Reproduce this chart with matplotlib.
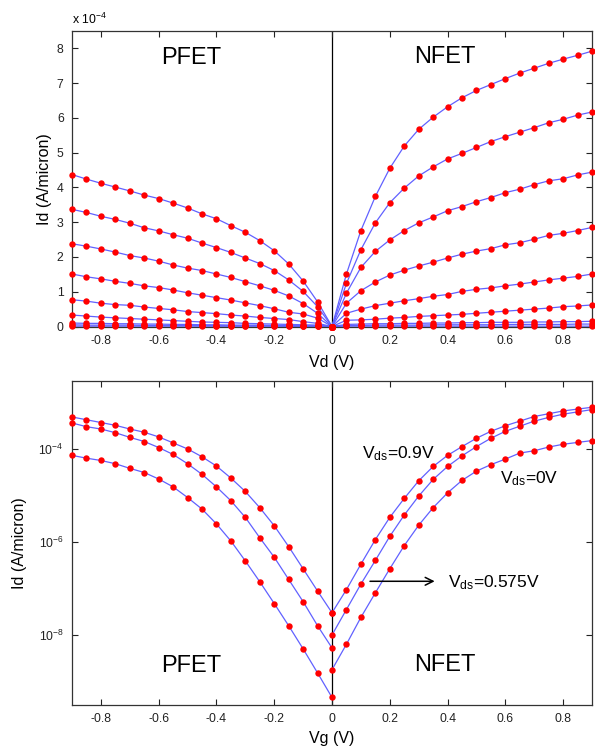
import matplotlib
matplotlib.use("Agg")
import matplotlib.pyplot as plt
import numpy as np

plt.rcParams['font.family'] = ['Liberation Sans', 'DejaVu Sans']
plt.rcParams['mathtext.fontset'] = 'custom'
plt.rcParams['mathtext.rm'] = 'Liberation Sans'
plt.rcParams['mathtext.it'] = 'Liberation Sans:italic'
plt.rcParams['axes.unicode_minus'] = False

# ---------------- data: output characteristics (Id in units of 1e-4 A/micron) ----
vd_n = [0, 0.05, 0.1, 0.15, 0.2, 0.25, 0.3, 0.35, 0.4, 0.45, 0.5, 0.55, 0.6, 0.65,
        0.7, 0.75, 0.8, 0.85, 0.9]
vd_p = [-0.9, -0.85, -0.8, -0.75, -0.7, -0.65, -0.6, -0.55, -0.5, -0.45, -0.4, -0.35,
        -0.3, -0.25, -0.2, -0.15, -0.1, -0.05, 0]

id_n1 = [0, 1.51, 2.76, 3.74, 4.55, 5.19, 5.67, 6.02, 6.32, 6.58, 6.79, 6.96, 7.13, 7.29, 7.43, 7.57, 7.69, 7.80, 7.92]
id_n2 = [0, 1.24, 2.21, 2.98, 3.56, 3.98, 4.33, 4.59, 4.82, 4.98, 5.15, 5.32, 5.46, 5.59, 5.72, 5.86, 5.96, 6.08, 6.17]
id_n3 = [0, 0.96, 1.70, 2.16, 2.49, 2.76, 2.98, 3.15, 3.33, 3.45, 3.59, 3.71, 3.85, 3.95, 4.08, 4.19, 4.25, 4.36, 4.44]
id_n4 = [0, 0.67, 1.03, 1.28, 1.48, 1.62, 1.74, 1.85, 1.97, 2.08, 2.17, 2.24, 2.35, 2.41, 2.51, 2.62, 2.68, 2.76, 2.85]
id_n5 = [0, 0.38, 0.50, 0.60, 0.67, 0.74, 0.80, 0.87, 0.92, 1.01, 1.07, 1.11, 1.17, 1.22, 1.28, 1.34, 1.39, 1.44, 1.51]
id_n6 = [0, 0.18, 0.19, 0.21, 0.24, 0.26, 0.29, 0.31, 0.33, 0.35, 0.38, 0.41, 0.44, 0.47, 0.50, 0.53, 0.57, 0.59, 0.62]
id_n7 = [0, 0.06, 0.07, 0.08, 0.08, 0.09, 0.09, 0.10, 0.10, 0.11, 0.11, 0.12, 0.12, 0.12, 0.13, 0.13, 0.14, 0.14, 0.15]
id_n8 = [0, 0.03, 0.03, 0.04, 0.04, 0.04, 0.04, 0.05, 0.05, 0.05, 0.05, 0.05, 0.06, 0.06, 0.06, 0.06, 0.06, 0.07, 0.07]
id_n9 = [0, 0.01, 0.01, 0.01, 0.01, 0.01, 0.01, 0.01, 0.01, 0.01, 0.01, 0.01, 0.01, 0.01, 0.01, 0.01, 0.01, 0.01, 0.01]

id_p1 = [4.37, 4.24, 4.12, 4.01, 3.90, 3.78, 3.68, 3.55, 3.41, 3.24, 3.10, 2.90, 2.71, 2.47, 2.18, 1.80, 1.31, 0.71, 0]
id_p2 = [3.37, 3.28, 3.17, 3.08, 2.97, 2.84, 2.75, 2.64, 2.54, 2.40, 2.27, 2.13, 1.97, 1.81, 1.61, 1.34, 1.01, 0.57, 0]
id_p3 = [2.38, 2.31, 2.23, 2.14, 2.04, 1.97, 1.88, 1.77, 1.68, 1.61, 1.51, 1.41, 1.29, 1.17, 1.04, 0.88, 0.66, 0.38, 0]
id_p4 = [1.51, 1.43, 1.37, 1.30, 1.24, 1.17, 1.12, 1.05, 0.97, 0.90, 0.83, 0.76, 0.68, 0.60, 0.51, 0.41, 0.36, 0.24, 0]
id_p5 = [0.77, 0.73, 0.67, 0.63, 0.61, 0.56, 0.52, 0.48, 0.43, 0.40, 0.37, 0.33, 0.30, 0.26, 0.23, 0.20, 0.14, 0.09, 0]
id_p6 = [0.33, 0.30, 0.27, 0.25, 0.23, 0.21, 0.19, 0.17, 0.15, 0.13, 0.12, 0.11, 0.09, 0.08, 0.07, 0.06, 0.05, 0.04, 0]
id_p7 = [0.10, 0.09, 0.09, 0.08, 0.08, 0.07, 0.07, 0.06, 0.06, 0.05, 0.05, 0.04, 0.04, 0.04, 0.03, 0.03, 0.02, 0.02, 0]
id_p8 = [0.05, 0.04, 0.04, 0.04, 0.04, 0.03, 0.03, 0.03, 0.03, 0.03, 0.02, 0.02, 0.02, 0.02, 0.02, 0.01, 0.01, 0.01, 0]
id_p9 = [0.01, 0.01, 0.01, 0.01, 0.01, 0.01, 0.01, 0.01, 0.01, 0.01, 0.01, 0.01, 0.01, 0.01, 0.01, 0.01, 0.01, 0.01, 0]

# ---------------- data: transfer characteristics (log10 Id, A/micron) ----
vg_n = vd_n
vg_p = vd_p
log_id_pa = [-3.30, -3.36, -3.42, -3.48, -3.56, -3.63, -3.73, -3.86, -3.99, -4.16, -4.36, -4.62, -4.91, -5.26, -5.65, -6.10, -6.58, -7.06, -7.53]
log_id_pb = [-3.43, -3.51, -3.56, -3.64, -3.74, -3.83, -3.96, -4.11, -4.31, -4.54, -4.81, -5.11, -5.47, -5.91, -6.33, -6.81, -7.29, -7.81, -8.29]
log_id_pc = [-4.13, -4.19, -4.24, -4.31, -4.41, -4.50, -4.64, -4.81, -5.04, -5.29, -5.61, -5.98, -6.41, -6.86, -7.33, -7.81, -8.31, -8.83, -9.36]
log_id_na = [-7.53, -7.03, -6.48, -5.95, -5.47, -5.06, -4.68, -4.37, -4.13, -3.94, -3.76, -3.61, -3.49, -3.39, -3.29, -3.23, -3.17, -3.13, -3.09]
log_id_nb = [-8.01, -7.46, -6.91, -6.40, -5.88, -5.42, -5.01, -4.65, -4.37, -4.14, -3.94, -3.76, -3.61, -3.50, -3.39, -3.31, -3.24, -3.19, -3.14]
log_id_nc = [-8.76, -8.21, -7.63, -7.10, -6.58, -6.08, -5.64, -5.26, -4.94, -4.67, -4.47, -4.33, -4.21, -4.08, -4.03, -3.95, -3.89, -3.85, -3.81]

xticks = [-0.8, -0.6, -0.4, -0.2, 0, 0.2, 0.4, 0.6, 0.8]
xticklabels = ['-0.8', '-0.6', '-0.4', '-0.2', '0', '0.2', '0.4', '0.6', '0.8']

LINE_C = (0.38, 0.38, 1.0)
DOT_C = (1.0, 0.0, 0.0)

W, H = 595, 749
fig = plt.figure(figsize=(W / 100, H / 100), dpi=100)

def rect(l, t, r, b):
    return [l / W, 1 - b / H, (r - l) / W, (b - t) / H]

ax1 = fig.add_axes(rect(72, 31, 592, 326.5))
ax2 = fig.add_axes(rect(72, 381, 592, 705))

def draw(ax, x, y):
    ax.plot(x, y, '-', color=LINE_C, lw=0.9, zorder=2)
    ax.plot(x, y, 'o', color=DOT_C, ms=4.6, mec=DOT_C, mew=0, zorder=3, clip_on=False)

for c in [id_n1, id_n2, id_n3, id_n4, id_n5, id_n6, id_n7, id_n8, id_n9]:
    draw(ax1, vd_n, c)
for c in [id_p1, id_p2, id_p3, id_p4, id_p5, id_p6, id_p7, id_p8, id_p9]:
    draw(ax1, vd_p, c)

for c in [log_id_pa, log_id_pb, log_id_pc]:
    draw(ax2, vg_p, [10.0 ** v for v in c])
for c in [log_id_na, log_id_nb, log_id_nc]:
    draw(ax2, vg_n, [10.0 ** v for v in c])

ax1.set_xlim(-0.9, 0.9)
ax1.set_ylim(0, 8.5)
ax1.set_yticks([0, 1, 2, 3, 4, 5, 6, 7, 8])
ax1.set_yticklabels(['0', '1', '2', '3', '4', '5', '6', '7', '8'])

ax2.set_xlim(-0.9, 0.9)
ax2.set_yscale('log')
ax2.set_ylim(3e-10, 3e-3)
ax2.set_yticks([1e-8, 1e-6, 1e-4])
ax2.set_yticklabels(['10$^{-8}$', '10$^{-6}$', '10$^{-4}$'])
ax2.yaxis.set_minor_locator(matplotlib.ticker.NullLocator())

for ax in (ax1, ax2):
    ax.set_xticks(xticks)
    ax.set_xticklabels(xticklabels)
    ax.axvline(0, color='black', lw=0.9, zorder=1)
    ax.tick_params(direction='in', top=True, right=True, length=4, width=0.8,
                   labelsize=8.8, pad=6, colors='#222222')
    for s in ax.spines.values():
        s.set_linewidth(0.9)
        s.set_color('#333333')

ax1.set_xlabel('Vd (V)', fontsize=11.5)
ax1.xaxis.set_label_coords(0.5, -0.095)
ax1.set_ylabel('Id (A/micron)', fontsize=11.5)
ax1.yaxis.set_label_coords(-0.038, 0.5)
ax2.set_xlabel('Vg (V)', fontsize=11.5)
ax2.xaxis.set_label_coords(0.5, -0.079)
ax2.set_ylabel('Id (A/micron)', fontsize=11.5)
ax2.yaxis.set_label_coords(-0.086, 0.5)

fig.text(72 / W, 1 - 24 / H, 'x 10$^{-4}$', fontsize=8.8, ha='left', va='baseline')

ax1.text(-0.488, 7.72, 'PFET', fontsize=17, ha='center', va='center')
ax1.text(0.391, 7.75, 'NFET', fontsize=17, ha='center', va='center')
ax2.text(-0.488, 10 ** -8.68, 'PFET', fontsize=17, ha='center', va='center')
ax2.text(0.391, 10 ** -8.66, 'NFET', fontsize=17, ha='center', va='center')

ax2.text(0.104, 10 ** -4.09, 'V$_{\\mathrm{ds}}$=0.9V', fontsize=12.5, ha='left', va='center')
ax2.text(0.582, 10 ** -4.63, 'V$_{\\mathrm{ds}}$=0V', fontsize=12.5, ha='left', va='center')
ax2.text(0.402, 10 ** -6.87, 'V$_{\\mathrm{ds}}$=0.575V', fontsize=12.5, ha='left', va='center')
ax2.annotate('', xy=(0.365, 10 ** -6.85), xytext=(0.122, 10 ** -6.85),
             arrowprops=dict(arrowstyle='->', color='black', lw=1.1, mutation_scale=14))

fig.savefig('out.png', dpi=100)
